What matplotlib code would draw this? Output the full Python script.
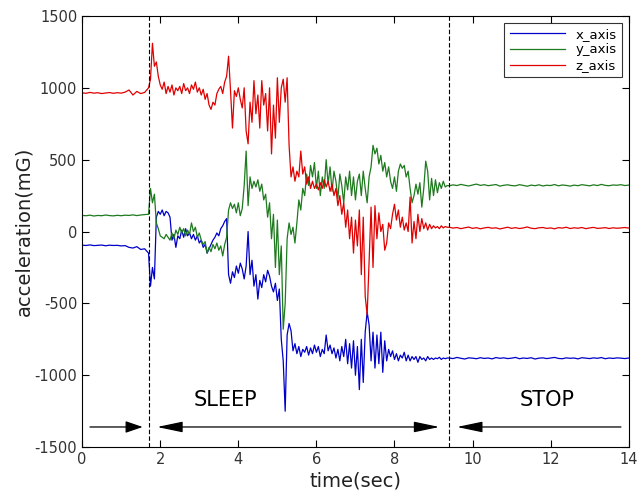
import numpy as np
import matplotlib
matplotlib.use("Agg")
import matplotlib.pyplot as plt

plt.rcParams["axes.unicode_minus"] = False

# still phase before the sleep marker (0 .. 1.6 s, step 0.1)
x_pre = [-95, -97, -93, -98, -96, -94, -99, -95, -97, -96, -100, -98, -110, -115, -105, -125, -120]
y_pre = [112, 110, 114, 108, 112, 110, 115, 111, 109, 113, 110, 114, 112, 116, 111, 115, 118]
z_pre = [965, 962, 968, 963, 966, 960, 964, 967, 962, 966, 963, 970, 985, 950, 975, 960, 968]

# active phase (1.7 .. 9.35 s, step 0.05)
x_act = [-150, -380, -250, -330, 100, 140, 120, 150, 110, 140, 130, 100, -60, -20, -110, -30,
         -50, 10, -40, 20, -30, -10, -50, -20, -60, -30, -80, -60, -110, -90, -150, -120,
         -90, -60, -40, -10, -30, 20, 40, 70, 90, -300, -360, -280, -320, -240, -290, -220,
         -260, -330, -240, 0, -300, -200, -380, -300, -470, -340, -390, -300, -350, -270, -310, -380,
         -420, -360, -480, -400, -750, -900, -1250, -720, -640, -690, -830, -780, -850, -800, -870, -820,
         -840, -800, -860, -810, -850, -790, -840, -800, -870, -820, -850, -720, -830, -790, -850, -810,
         -880, -820, -900, -800, -870, -750, -920, -780, -950, -760, -1000, -800, -1100, -750, -1050, -700,
         -560, -650, -900, -700, -950, -720, -920, -700, -980, -760, -900, -820, -870, -830, -890, -850,
         -900, -860, -880, -840, -900, -860, -900, -870, -890, -870, -910, -870, -890, -880, -900, -870,
         -890, -880, -890, -880, -885, -875, -890, -880, -885, -880]
y_act = [120, 300, 200, 260, 60, 20, -30, -40, -50, -20, -40, -60, -10, -50, 10, -20,
         30, -10, 20, -30, 10, -20, 60, 0, 30, -40, -10, -60, -90, -70, -150, -110,
         -140, -90, -120, -80, -130, -100, -170, -90, -40, 150, 200, 160, 190, 130, 200, 110,
         160, 320, 560, 180, 380, 300, 350, 310, 360, 280, 330, 220, 260, 100, 200, -50,
         120, -250, 80, -300, -100, -680, -500, -50, 60, -20, 30, -80, 60, 220, 150, 300,
         250, 400, 320, 460, 380, 480, 300, 420, 250, 380, 300, 500, 330, 450, 280, 420,
         350, 230, 400, 320, 200, 380, 290, 420, 250, 380, 220, 350, 400, 250, 420, 300,
         200, 380, 450, 600, 540, 580, 470, 530, 420, 480, 380, 450, 350, 300, 380, 280,
         420, 470, 440, 460, 380, 420, 300, 200, 250, 330, 260, 340, 170, 300, 490, 420,
         220, 370, 250, 360, 270, 340, 300, 350, 310, 320]
z_act = [1000, 1060, 1310, 1150, 1180, 1080, 1020, 990, 1040, 960, 1010, 970, 1020, 950, 1000, 980,
         1010, 960, 1030, 980, 1000, 960, 1020, 990, 1040, 970, 1000, 950, 990, 920, 960, 880,
         850, 900, 880, 960, 990, 1010, 960, 1040, 1080, 1220, 980, 720, 980, 940, 1000, 920,
         860, 1000, 700, 610, 900, 760, 1050, 820, 950, 720, 1050, 880, 960, 700, 1000, 540,
         880, 650, 1070, 760, 1000, 1060, 900, 1070, 600, 380, 450, 350, 420, 380, 560, 400,
         450, 330, 380, 300, 350, 300, 330, 290, 340, 300, 360, 310, 350, 280, 330, 250,
         300, 180, 250, 120, 200, 30, 150, -50, 100, -150, 80, -100, 150, -300, 100, -450,
         -580, -200, 170, -250, 180, -50, 130, 0, 50, -130, -80, 60, 20, 120, 190, 80,
         150, 30, 100, 10, 60, 0, 240, -80, 70, -50, 120, 0, 90, 20, 60, 10,
         50, 20, 40, 25, 35, 20, 40, 25, 35, 30]

# still phase after the stop marker (9.4 .. 14.0 s, step 0.1)
x_post = [-880, -884, -876, -882, -887, -879, -881, -885, -878, -883, -880, -886, -877, -882, -879, -884,
          -881, -876, -885, -880, -883, -878, -887, -881, -879, -884, -880, -876, -883, -885, -879, -882,
          -880, -886, -878, -881, -884, -879, -882, -877, -885, -880, -883, -879, -881, -884, -880]
y_post = [318, 325, 320, 328, 322, 317, 324, 330, 321, 326, 319, 323, 327, 316, 322, 325,
          320, 318, 326, 321, 315, 323, 319, 325, 317, 322, 320, 327, 318, 324, 321, 316,
          323, 319, 326, 322, 318, 325, 320, 328, 321, 319, 324, 322, 326, 320, 323]
z_post = [30, 24, 28, 20, 26, 31, 22, 27, 19, 25, 29, 23, 26, 18, 24, 30,
          22, 27, 21, 25, 32, 23, 20, 26, 28, 22, 25, 19, 27, 24, 30, 21,
          26, 23, 28, 20, 25, 29, 22, 24, 27, 21, 26, 23, 25, 28, 24]

t_sleep = 1.7
t_stop = 9.4


def series(pre, act, post):
    t = np.concatenate([np.linspace(0, t_sleep, len(pre), endpoint=False),
                        np.linspace(t_sleep, t_stop, len(act), endpoint=False),
                        np.linspace(t_stop, 14.0, len(post))])
    return t, np.concatenate([pre, act, post])


fig = plt.figure(figsize=(6.37, 4.99), dpi=100)
ax = fig.add_axes([0.129, 0.104, 0.858, 0.864])

for pre, act, post, c, name in [(x_pre, x_act, x_post, "#0000c8", "x_axis"),
                                (y_pre, y_act, y_post, "#1e7a1e", "y_axis"),
                                (z_pre, z_act, z_post, "#e00000", "z_axis")]:
    t, v = series(pre, act, post)
    ax.plot(t, v, color=c, lw=0.9, label=name)

ax.axvline(t_sleep, color="black", ls="--", lw=0.8, dashes=(4, 2))
ax.axvline(t_stop, color="black", ls="--", lw=0.8, dashes=(4, 2))

arrow_y = -1360
ap_short = dict(arrowstyle="-|>,head_length=0.7,head_width=0.24", color="black", lw=0.9,
                mutation_scale=15, shrinkA=0, shrinkB=0)
ap = dict(ap_short, arrowstyle="-|>,head_length=1.05,head_width=0.22")
ap2 = dict(ap_short, arrowstyle="<|-|>,head_length=1.05,head_width=0.22")
ax.annotate("", xy=(1.55, arrow_y), xytext=(0.2, arrow_y), arrowprops=ap_short)
ax.annotate("", xy=(9.15, arrow_y), xytext=(1.92, arrow_y), arrowprops=ap2)
ax.annotate("", xy=(9.6, arrow_y), xytext=(13.8, arrow_y), arrowprops=ap)
ax.text(3.67, -1175, "SLEEP", fontsize=15, ha="center", va="center")
ax.text(11.9, -1175, "STOP", fontsize=15, ha="center", va="center")

ax.set_xlim(0, 14)
ax.set_ylim(-1500, 1500)
ax.set_xticks(range(0, 15, 2))
ax.set_yticks(range(-1500, 1501, 500))
ax.tick_params(direction="in", top=True, right=True, labelsize=10.5, colors="black",
               labelcolor="#333333", length=5)
ax.set_xlabel("time(sec)", fontsize=14, color="#222222", labelpad=3)
ax.set_ylabel("acceleration(mG)", fontsize=14, color="#222222", labelpad=1)

leg = ax.legend(loc="upper right", fontsize=9.5, frameon=True, fancybox=False,
                edgecolor="black", borderaxespad=0.5, handlelength=4.2, labelspacing=0.2)
leg.get_frame().set_linewidth(0.8)

fig.savefig("out.png", dpi=100)
